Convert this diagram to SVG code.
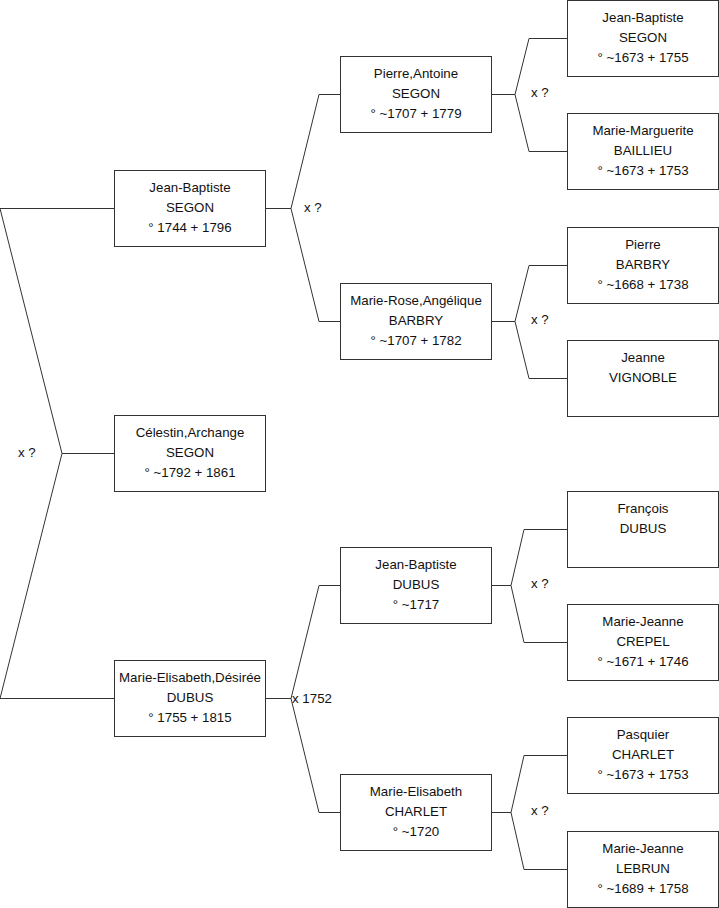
<svg xmlns="http://www.w3.org/2000/svg" width="719" height="908" viewBox="0 0 719 908">
<style>
.box{fill:#fff;stroke:#333;stroke-width:1}
.ln{fill:none;stroke:#333;stroke-width:1}
text{font-family:"Liberation Sans",Arial,sans-serif;font-size:13.3px;fill:#111}
.c{text-anchor:middle}
</style>
<rect width="719" height="908" fill="#fff"/>
<g id="connectors">
<path class="ln" d="M0 208.5H114.5M0 208.5L62 453.5L0 698.5H114.5M62 453.5H114.5"/>
<path class="ln" d="M265.5 208.5H291L319 94.5H340.5M291 208.5L319 321.5H340.5"/>
<path class="ln" d="M265.5 698.5H291L319 585.5H340.5M291 698.5L319 812.5H340.5"/>
<path class="ln" d="M491.5 94.5H515L529 38.5H567.5M515 94.5L529 151.5H567.5"/>
<path class="ln" d="M491.5 321.5H515L529 265.5H567.5M515 321.5L529 378.5H567.5"/>
<path class="ln" d="M491.5 585.5H511L524 529.5H567.5M511 585.5L524 642.5H567.5"/>
<path class="ln" d="M491.5 812.5H511L524 755.5H567.5M511 812.5L524 869.5H567.5"/>
<text x="18" y="457">x ?</text>
<text x="304" y="212">x ?</text>
<text x="292" y="703">x 1752</text>
<text x="531" y="97">x ?</text>
<text x="531" y="324">x ?</text>
<text x="531" y="588">x ?</text>
<text x="531" y="815">x ?</text>
</g>
<g id="n-jb-segon-1744">
<rect class="box" x="114.5" y="170.5" width="151" height="76"/>
<text class="c" x="190" y="191.5">Jean-Baptiste</text>
<text class="c" x="190" y="211.5">SEGON</text>
<text class="c" x="190" y="231.5">° 1744 + 1796</text>
</g>
<g id="n-celestin">
<rect class="box" x="114.5" y="415.5" width="151" height="76"/>
<text class="c" x="190" y="436.5">Célestin,Archange</text>
<text class="c" x="190" y="456.5">SEGON</text>
<text class="c" x="190" y="476.5">° ~1792 + 1861</text>
</g>
<g id="n-me-dubus">
<rect class="box" x="114.5" y="660.5" width="151" height="76"/>
<text class="c" x="190" y="681.5">Marie-Elisabeth,Désirée</text>
<text class="c" x="190" y="701.5">DUBUS</text>
<text class="c" x="190" y="721.5">° 1755 + 1815</text>
</g>
<g id="n-pierre-segon">
<rect class="box" x="340.5" y="56.5" width="151" height="76"/>
<text class="c" x="416" y="77.5">Pierre,Antoine</text>
<text class="c" x="416" y="97.5">SEGON</text>
<text class="c" x="416" y="117.5">° ~1707 + 1779</text>
</g>
<g id="n-marie-rose">
<rect class="box" x="340.5" y="283.5" width="151" height="76"/>
<text class="c" x="416" y="304.5">Marie-Rose,Angélique</text>
<text class="c" x="416" y="324.5">BARBRY</text>
<text class="c" x="416" y="344.5">° ~1707 + 1782</text>
</g>
<g id="n-jb-dubus">
<rect class="box" x="340.5" y="547.5" width="151" height="76"/>
<text class="c" x="416" y="568.5">Jean-Baptiste</text>
<text class="c" x="416" y="588.5">DUBUS</text>
<text class="c" x="416" y="608.5">° ~1717</text>
</g>
<g id="n-me-charlet">
<rect class="box" x="340.5" y="774.5" width="151" height="76"/>
<text class="c" x="416" y="795.5">Marie-Elisabeth</text>
<text class="c" x="416" y="815.5">CHARLET</text>
<text class="c" x="416" y="835.5">° ~1720</text>
</g>
<g id="n-jb-segon-1673">
<rect class="box" x="567.5" y="0.5" width="151" height="76"/>
<text class="c" x="643" y="21.5">Jean-Baptiste</text>
<text class="c" x="643" y="41.5">SEGON</text>
<text class="c" x="643" y="61.5">° ~1673 + 1755</text>
</g>
<g id="n-mm-baillieu">
<rect class="box" x="567.5" y="113.5" width="151" height="76"/>
<text class="c" x="643" y="134.5">Marie-Marguerite</text>
<text class="c" x="643" y="154.5">BAILLIEU</text>
<text class="c" x="643" y="174.5">° ~1673 + 1753</text>
</g>
<g id="n-pierre-barbry">
<rect class="box" x="567.5" y="227.5" width="151" height="76"/>
<text class="c" x="643" y="248.5">Pierre</text>
<text class="c" x="643" y="268.5">BARBRY</text>
<text class="c" x="643" y="288.5">° ~1668 + 1738</text>
</g>
<g id="n-jeanne-vignoble">
<rect class="box" x="567.5" y="340.5" width="151" height="76"/>
<text class="c" x="643" y="361.5">Jeanne</text>
<text class="c" x="643" y="381.5">VIGNOBLE</text>
</g>
<g id="n-francois-dubus">
<rect class="box" x="567.5" y="491.5" width="151" height="76"/>
<text class="c" x="643" y="512.5">François</text>
<text class="c" x="643" y="532.5">DUBUS</text>
</g>
<g id="n-mj-crepel">
<rect class="box" x="567.5" y="604.5" width="151" height="76"/>
<text class="c" x="643" y="625.5">Marie-Jeanne</text>
<text class="c" x="643" y="645.5">CREPEL</text>
<text class="c" x="643" y="665.5">° ~1671 + 1746</text>
</g>
<g id="n-pasquier-charlet">
<rect class="box" x="567.5" y="717.5" width="151" height="76"/>
<text class="c" x="643" y="738.5">Pasquier</text>
<text class="c" x="643" y="758.5">CHARLET</text>
<text class="c" x="643" y="778.5">° ~1673 + 1753</text>
</g>
<g id="n-mj-lebrun">
<rect class="box" x="567.5" y="831.5" width="151" height="76"/>
<text class="c" x="643" y="852.5">Marie-Jeanne</text>
<text class="c" x="643" y="872.5">LEBRUN</text>
<text class="c" x="643" y="892.5">° ~1689 + 1758</text>
</g>
</svg>
